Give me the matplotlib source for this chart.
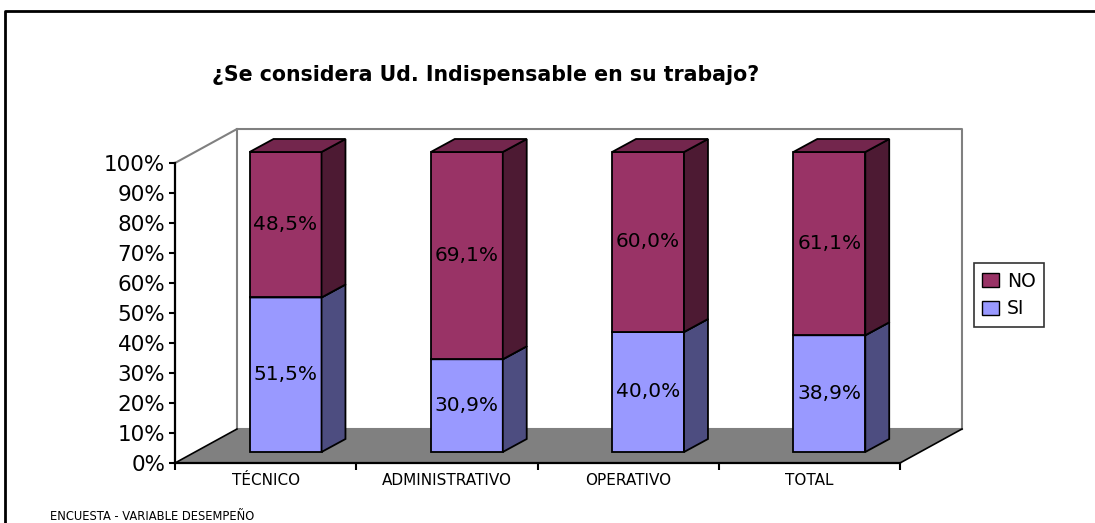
import matplotlib
matplotlib.use("Agg")
import matplotlib.pyplot as plt
from matplotlib.patches import Polygon, Patch
from matplotlib.lines import Line2D

plt.rcParams['font.family'] = ['DejaVu Sans']

# Datos
categorias = ['TÉCNICO', 'ADMINISTRATIVO', 'OPERATIVO', 'TOTAL']
si = [51.5, 30.9, 40.0, 38.9]
no = [48.5, 69.1, 60.0, 61.1]
series = [('SI', si), ('NO', no)]

titulo = '¿Se considera Ud. Indispensable en su trabajo?'
pie = 'ENCUESTA - VARIABLE DESEMPEÑO'

# colores (frente, lado, arriba)
colores = {
    'SI': ('#9999FF', '#4D4D80', '#7373BF'),
    'NO': ('#993366', '#4D1A33', '#73264D'),
}

# perspectiva en unidades de datos
DX, DY = 0.342, 11.33      # profundidad del suelo
OX, OY = 0.110, 3.67       # posicion de las barras dentro del suelo
BDX, BDY = 0.132, 4.33     # profundidad de cada barra
ANCHO = 0.397

W, H = 1095, 523
fig = plt.figure(figsize=(W / 100, H / 100), dpi=100)
ax = fig.add_axes([175 / W, 1 - 463 / H, 725 / W, 300 / H])
n = len(categorias)
ax.set_xlim(-0.5, n - 0.5)
ax.set_ylim(0, 100)

# paredes y suelo
gris = '#808080'
x0, x1 = -0.5, n - 0.5
ax.add_patch(Polygon([(x0, 0), (x1, 0), (x1 + DX, DY), (x0 + DX, DY)],
                     closed=True, facecolor=gris, edgecolor='none', clip_on=False, zorder=1))
ax.plot([x0, x0 + DX], [0, DY], color='black', lw=1.2, clip_on=False, zorder=2)
ax.plot([x1, x1 + DX], [0, DY], color='black', lw=1.2, clip_on=False, zorder=2)
ax.plot([x0 + DX, x1 + DX], [DY, DY], color=gris, lw=1.5, clip_on=False, zorder=1.5)
ax.plot([x0, x0 + DX, x1 + DX, x1 + DX], [100, 100 + DY, 100 + DY, DY],
        color=gris, lw=1.5, clip_on=False, zorder=1.5)
ax.plot([x0 + DX, x0 + DX], [100 + DY, DY], color=gris, lw=1.5, clip_on=False, zorder=1.5)

# barras 3D apiladas
for i in range(n):
    base = 0
    for k, (nombre, vals) in enumerate(series):
        v = vals[i]
        fr, la, ar = colores[nombre]
        xa = i - ANCHO / 2 + OX
        xb = i + ANCHO / 2 + OX
        ya = base + OY
        yb = base + v + OY
        kw = dict(closed=True, edgecolor='black', lw=1.3, clip_on=False, zorder=3 + k)
        ax.add_patch(Polygon([(xa, ya), (xb, ya), (xb, yb), (xa, yb)], facecolor=fr, **kw))
        ax.add_patch(Polygon([(xb, ya), (xb + BDX, ya + BDY), (xb + BDX, yb + BDY), (xb, yb)],
                             facecolor=la, **kw))
        ax.add_patch(Polygon([(xa, yb), (xb, yb), (xb + BDX, yb + BDY), (xa + BDX, yb + BDY)],
                             facecolor=ar, **kw))
        etiqueta = f'{v:.1f}%'.replace('.', ',')
        ax.text((xa + xb) / 2, (ya + yb) / 2, etiqueta, ha='center', va='center',
                fontsize=14.5, color='black', zorder=10)
        base += v

# ejes
for s in ['top', 'right']:
    ax.spines[s].set_visible(False)
ax.spines['left'].set_linewidth(1.6)
ax.spines['bottom'].set_linewidth(1.6)
ax.spines['left'].set_zorder(6)
ax.spines['bottom'].set_zorder(6)
ax.patch.set_visible(False)
ax.set_yticks(range(0, 101, 10))
ax.set_yticklabels([f'{t}%' for t in range(0, 101, 10)], fontsize=15.5)
ax.tick_params(axis='y', direction='out', length=4, width=1.5, pad=3)
ax.set_xticks([i - 0.5 for i in range(n + 1)])
ax.set_xticklabels([])
ax.tick_params(axis='x', which='major', direction='out', length=5, width=1.5)
ax.set_xticks(range(n), minor=True)
ax.set_xticklabels(categorias, minor=True, fontsize=11)
ax.tick_params(axis='x', which='minor', length=0, pad=7)

# titulo
fig.text(486 / W, 1 - 75 / H, titulo, ha='center', va='center',
         fontsize=14.8, fontweight='bold')

# leyenda
handles = [Patch(facecolor=colores['NO'][0], edgecolor='black', label='NO'),
           Patch(facecolor=colores['SI'][0], edgecolor='black', label='SI')]
leg = fig.legend(handles=handles, loc='center left', bbox_to_anchor=(974 / W, 1 - 295 / H),
                 frameon=True, fancybox=False, edgecolor='black', fontsize=13.5,
                 handlelength=0.9, handleheight=0.8, handletextpad=0.4,
                 borderpad=0.45, labelspacing=0.45, borderaxespad=0)
leg.get_frame().set_linewidth(1.2)

# pie
fig.text(50 / W, 1 - 516 / H, pie, ha='left', va='center', fontsize=8.3)

# marco exterior
fig.add_artist(Line2D([4.5 / W, 4.5 / W, 1], [0, 1 - 10.5 / H, 1 - 10.5 / H],
                      transform=fig.transFigure, color='black', lw=2))

fig.savefig('out.png', dpi=100)
